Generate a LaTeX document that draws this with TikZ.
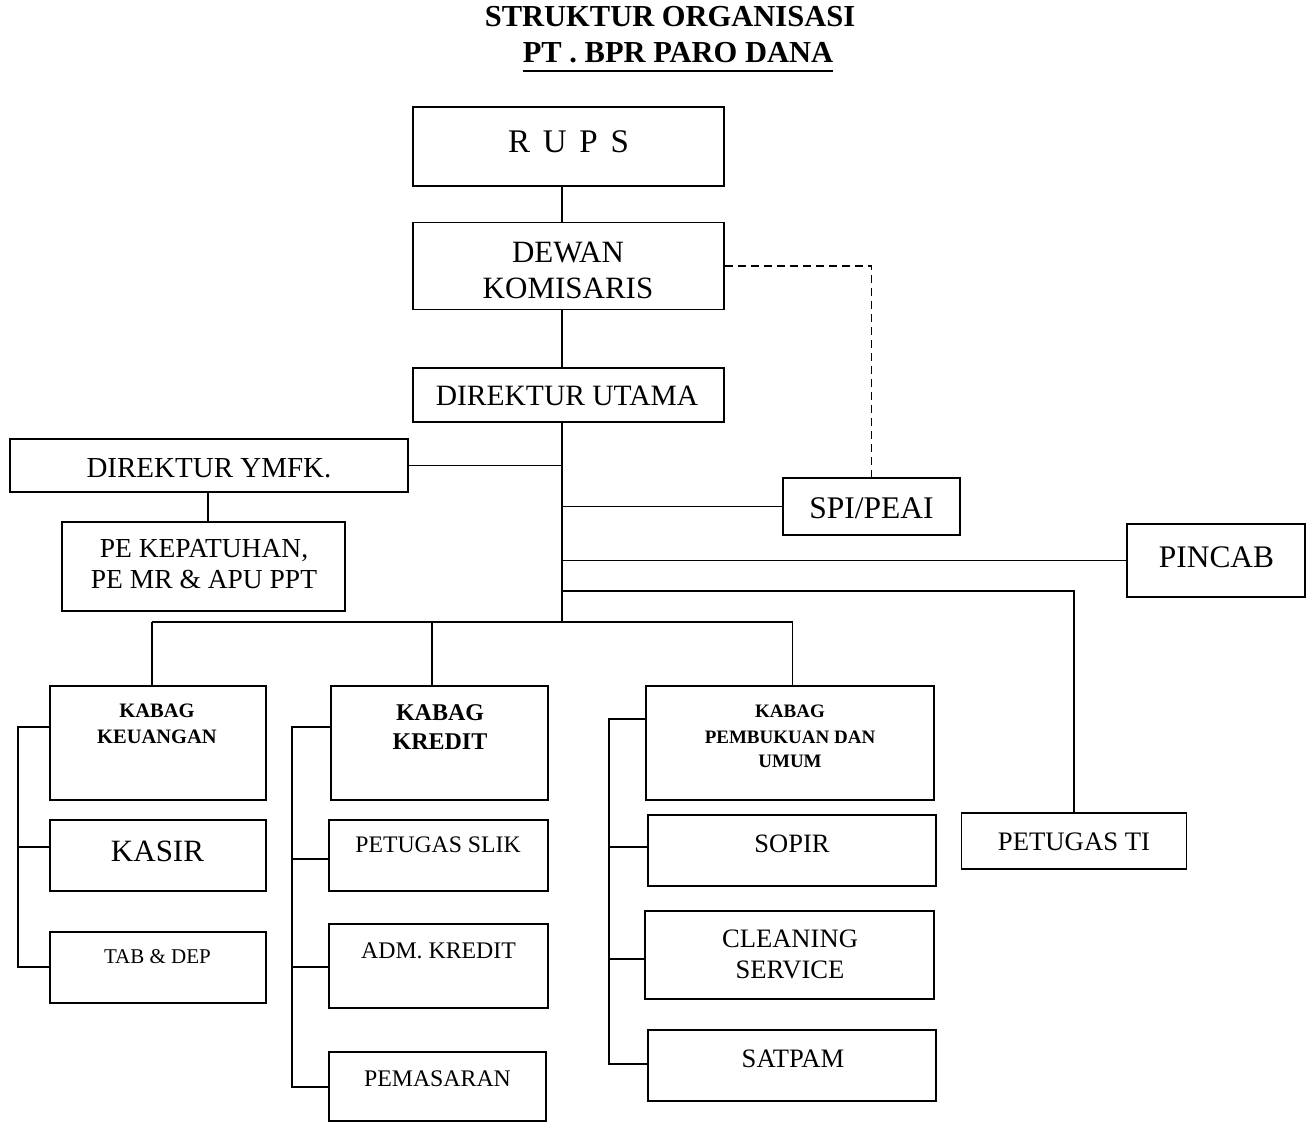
\documentclass[tikz,border=0pt]{standalone}
\usepackage{fontspec}
\setmainfont{Liberation Serif}
\newcommand\myfs[1]{\fontsize{#1}{#1}\selectfont}
\begin{document}
\begin{tikzpicture}[x=1pt,y=-1pt,
  box/.style={draw,line width=1.9pt,inner sep=0pt,rectangle},
  lbl/.style={anchor=base,inner sep=0pt},
  conn/.style={line width=1.8pt},
  dconn/.style={line width=1.8pt,dash pattern=on 8pt off 5pt}]
\useasboundingbox (0,0) rectangle (1307,1123);

% title
\node[lbl,font=\myfs{30.5}\bfseries] (t1) at (670,27) {STRUKTUR ORGANISASI};
\node[lbl,font=\myfs{30.5}\bfseries] (t2) at (678,63) {PT . BPR PARO DANA};
\draw[line width=2.2pt] ([yshift=-7.7pt]t2.base west) -- ([yshift=-7.7pt]t2.base east);

% boxes
\node[box,minimum width=311,minimum height=79] (rups) at (568.5,146.5) {};
\node[box,minimum width=311,minimum height=87] (dewan) at (568.5,266) {};
\node[box,minimum width=311,minimum height=54] (dirut) at (568.5,395) {};
\node[box,minimum width=398,minimum height=53] (ymfk) at (209,465.5) {};
\node[box,minimum width=283,minimum height=89] (pe) at (203.5,566.5) {};
\node[box,minimum width=177,minimum height=57] (spi) at (871.5,506.5) {};
\node[box,minimum width=178,minimum height=73] (pincab) at (1216,560.5) {};
\node[box,minimum width=216,minimum height=114] (keu) at (158,743) {};
\node[box,minimum width=216,minimum height=71] (kasir) at (158,855.5) {};
\node[box,minimum width=216,minimum height=71] (tab) at (158,967.5) {};
\node[box,minimum width=217,minimum height=114] (kredit) at (439.5,743) {};
\node[box,minimum width=219,minimum height=71] (slik) at (438.5,855.5) {};
\node[box,minimum width=219,minimum height=84] (adm) at (438.3,966) {};
\node[box,minimum width=217,minimum height=69] (pemas) at (437.5,1086.5) {};
\node[box,minimum width=288,minimum height=114] (pemb) at (790,743) {};
\node[box,minimum width=288,minimum height=71] (sopir) at (792,850.5) {};
\node[box,minimum width=289,minimum height=88] (clean) at (789.5,955) {};
\node[box,minimum width=288,minimum height=71] (satpam) at (792,1065.5) {};
\node[box,minimum width=225,minimum height=56] (ti) at (1074,841) {};

% labels
\node[lbl,font=\myfs{33}] (lrups) at (568.5,153) {\spaceskip=12.8pt R U P S};
\node[lbl,font=\myfs{31}] (ldewan1) at (568,263) {DEWAN};
\node[lbl,font=\myfs{31}] (ldewan2) at (568,299) {KOMISARIS};
\node[lbl,font=\myfs{29.5}] (ldirut) at (567,405) {DIREKTUR UTAMA};
\node[lbl,font=\myfs{29}] (lymfk) at (209,477) {DIREKTUR YMFK.};
\node[lbl,font=\myfs{27.5}] (lpe1) at (204,557) {PE KEPATUHAN,};
\node[lbl,font=\myfs{27.5}] (lpe2) at (204,588) {PE MR \& APU PPT};
\node[lbl,font=\myfs{31.5}] (lspi) at (871.5,518) {SPI/PEAI};
\node[lbl,font=\myfs{31.4}] (lpincab) at (1216.5,567) {PINCAB};
\node[lbl,font=\myfs{20.5}\bfseries] (lkeu1) at (157,717) {KABAG};
\node[lbl,font=\myfs{20.5}\bfseries] (lkeu2) at (157,743) {KEUANGAN};
\node[lbl,font=\myfs{31}] (lkasir) at (157.5,861) {KASIR};
\node[lbl,font=\myfs{21}] (ltab) at (157.5,963) {TAB \& DEP};
\node[lbl,font=\myfs{24}\bfseries] (lkre1) at (440,720) {KABAG};
\node[lbl,font=\myfs{24}\bfseries] (lkre2) at (440,749) {KREDIT};
\node[lbl,font=\myfs{23.7}] (lslik) at (438,852) {PETUGAS SLIK};
\node[lbl,font=\myfs{23.8}] (ladm) at (438.5,958) {ADM. KREDIT};
\node[lbl,font=\myfs{23.8}] (lpemas) at (437.5,1086) {PEMASARAN};
\node[lbl,font=\myfs{19}\bfseries] (lpemb1) at (790,717) {KABAG};
\node[lbl,font=\myfs{19}\bfseries] (lpemb2) at (790,743) {PEMBUKUAN DAN};
\node[lbl,font=\myfs{19}\bfseries] (lpemb3) at (790,767) {UMUM};
\node[lbl,font=\myfs{26.5}] (lsopir) at (792,852) {SOPIR};
\node[lbl,font=\myfs{26.6}] (lclean1) at (790,947) {CLEANING};
\node[lbl,font=\myfs{26.6}] (lclean2) at (790,978) {SERVICE};
\node[lbl,font=\myfs{26.6}] (lsatpam) at (793,1067) {SATPAM};
\node[lbl,font=\myfs{26.7}] (lti) at (1074,850) {PETUGAS TI};

% connector points
\coordinate (T) at (562,0);
\coordinate (ymJ) at (562,465.5);
\coordinate (spiJ) at (562,506.5);
\coordinate (pinJ) at (562,560.5);
\coordinate (tiJ) at (562,591);
\coordinate (busC) at (562,622);
\coordinate (d1) at (152,622);
\coordinate (d2) at (432,622);
\coordinate (d3) at (792.5,622);
\coordinate (ymD) at (208,0);

% top chain
\draw[conn] (rups.south -| T) -- (dewan.north -| T);
\draw[conn] (dewan.south -| T) -- (dirut.north -| T);
\draw[conn] (dirut.south -| T) -- (busC);
\draw[dconn] (dewan.east) -| (spi.north);
\draw[conn] (ymfk.east) -- (ymJ);
\draw[conn] (ymfk.south -| ymD) -- (pe.north -| ymD);
\draw[conn] (spiJ) -- (spi.west);
\draw[conn] (pinJ) -- (pincab.west);
\draw[conn] (tiJ) -| (ti.north);

% bus
\draw[conn] (d1) -- (d3);
\draw[conn] (d1) -- (keu.north -| d1);
\draw[conn] (d2) -- (kredit.north -| d2);
\draw[conn] (d3) -- (pemb.north -| d3);

% keuangan bracket
\coordinate (k1) at (18,727);
\coordinate (k2) at (18,847);
\coordinate (k3) at (18,967);
\draw[conn] (k1 -| keu.west) -- (k1) -- (k3) -- (k3 -| tab.west);
\draw[conn] (k2) -- (k2 -| kasir.west);

% kredit bracket
\coordinate (r1) at (292,727);
\coordinate (r2) at (292,859);
\coordinate (r3) at (292,967);
\coordinate (r4) at (292,1087);
\draw[conn] (r1 -| kredit.west) -- (r1) -- (r4) -- (r4 -| pemas.west);
\draw[conn] (r2) -- (r2 -| slik.west);
\draw[conn] (r3) -- (r3 -| adm.west);

% pembukuan bracket
\coordinate (p1) at (609,719);
\coordinate (p2) at (609,847);
\coordinate (p3) at (609,959);
\coordinate (p4) at (609,1064);
\draw[conn] (p1 -| pemb.west) -- (p1) -- (p4) -- (p4 -| satpam.west);
\draw[conn] (p2) -- (p2 -| sopir.west);
\draw[conn] (p3) -- (p3 -| clean.west);
\end{tikzpicture}
\end{document}
